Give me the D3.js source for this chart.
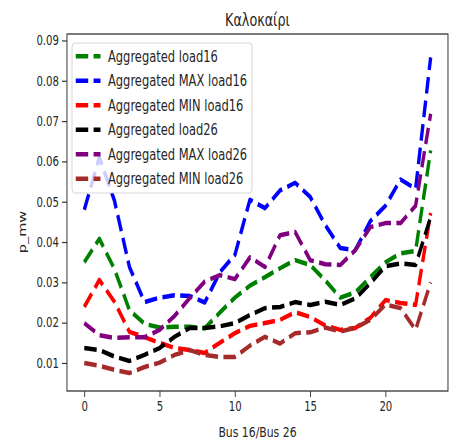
<!DOCTYPE html>
<html>
<head>
<meta charset="utf-8">
<script src="https://cdn.jsdelivr.net/npm/d3@7"></script>
<style>
  html, body { margin: 0; padding: 0; background: #fff; }
  svg { display: block; }
  text { font-family: "DejaVu Sans", sans-serif; fill: #262626; }
</style>
</head>
<body>
<script>
// Hours 0..23 on the x axis
const hours = d3.range(24);

const load16 = [0.035, 0.0408, 0.0333, 0.0231, 0.0197, 0.0188, 0.019, 0.019, 0.0186, 0.0225, 0.0262, 0.0292,
  0.0313, 0.0335, 0.0355, 0.0343, 0.0305, 0.0262, 0.0275, 0.0313, 0.035, 0.0372, 0.0378, 0.0627];
const maxLoad16 = [0.048, 0.061, 0.0503, 0.0338, 0.0251, 0.0262, 0.0268, 0.0266, 0.025, 0.0325, 0.0368, 0.0505,
  0.0484, 0.0528, 0.0547, 0.0512, 0.0442, 0.0385, 0.038, 0.0452, 0.049, 0.0555, 0.0532, 0.0858];
const minLoad16 = [0.0239, 0.0306, 0.0252, 0.0177, 0.0164, 0.015, 0.0137, 0.0132, 0.0125, 0.015, 0.0174, 0.0192,
  0.0199, 0.0207, 0.0226, 0.0214, 0.0193, 0.0182, 0.0187, 0.0212, 0.0256, 0.0249, 0.0244, 0.0472];
const load26 = [0.0137, 0.0132, 0.0116, 0.0105, 0.012, 0.0137, 0.0165, 0.0187, 0.0187, 0.0191, 0.0199, 0.0219,
  0.0236, 0.0239, 0.0251, 0.0244, 0.0252, 0.0244, 0.026, 0.0298, 0.034, 0.0347, 0.0343, 0.0462];
const maxLoad26 = [0.0199, 0.0169, 0.0162, 0.0164, 0.0164, 0.0182, 0.0217, 0.0261, 0.0302, 0.0318, 0.0308, 0.0362,
  0.0338, 0.0417, 0.0425, 0.0355, 0.0345, 0.0343, 0.038, 0.0437, 0.0447, 0.0447, 0.049, 0.0718];
const minLoad26 = [0.01, 0.0093, 0.0083, 0.0075, 0.009, 0.0101, 0.012, 0.0132, 0.012, 0.0115, 0.0115, 0.0143,
  0.0165, 0.0148, 0.0174, 0.0176, 0.0188, 0.0178, 0.0187, 0.0207, 0.0245, 0.0236, 0.0182, 0.030];

const seriesNames = ["Aggregated load16", "Aggregated MAX load16", "Aggregated MIN load16",
  "Aggregated load26", "Aggregated MAX load26", "Aggregated MIN load26"];
const seriesValues = [load16, maxLoad16, minLoad16, load26, maxLoad26, minLoad26];
const seriesColors = ["#008000", "#0000ff", "#ff0000", "#000000", "#800080", "#a52a2a"];

const xTicks = [0, 5, 10, 15, 20];
const yTicks = [0.01, 0.02, 0.03, 0.04, 0.05, 0.06, 0.07, 0.08, 0.09];

const titleText = "Καλοκαίρι";
const xLabel = "Bus 16/Bus 26";
const yLabel = "p_mw";

// The whole figure is drawn in a wider frame and squeezed horizontally.
const W = 454, H = 445, SX = 0.75;
const plot = { left: 89.3, right: 597.3, top: 34, bottom: 391 };
const dash = "16.6,7.2";
const lw = 4.5;

const svg = d3.select("body").append("svg")
  .attr("width", W).attr("height", H);
svg.append("rect").attr("width", W).attr("height", H).attr("fill", "#fff");

const root = svg.append("g").attr("transform", `scale(${SX},1)`);

const x = d3.scaleLinear().domain([-1.15, 24.15]).range([plot.left, plot.right]);
const y = d3.scaleLinear().domain([0.00305, 0.0916]).range([plot.bottom, plot.top]);

// Axes
const xAxis = d3.axisBottom(x).tickValues(xTicks).tickFormat(d3.format("d")).tickSize(6).tickPadding(4);
const yAxis = d3.axisLeft(y).tickValues(yTicks).tickFormat(d3.format(".2f")).tickSize(6.7).tickPadding(4);

const gx = root.append("g").attr("transform", `translate(0,${plot.bottom})`).call(xAxis);
const gy = root.append("g").attr("transform", `translate(${plot.left},0)`).call(yAxis);
[gx, gy].forEach(g => {
  g.select(".domain").remove();
  g.selectAll(".tick line").attr("stroke", "#333").attr("stroke-width", 1.2);
  g.selectAll(".tick text").attr("font-size", 13.5).attr("fill", "#262626")
    .style("font-family", "DejaVu Sans, sans-serif");
});

// Series lines
const line = d3.line().x((d, i) => x(hours[i])).y(d => y(d));
const clip = root.append("clipPath").attr("id", "plotclip").append("rect")
  .attr("x", plot.left).attr("y", plot.top)
  .attr("width", plot.right - plot.left).attr("height", plot.bottom - plot.top);
const linesG = root.append("g").attr("clip-path", "url(#plotclip)");
seriesValues.forEach((vals, k) => {
  linesG.append("path")
    .datum(vals)
    .attr("d", line)
    .attr("fill", "none")
    .attr("stroke", seriesColors[k])
    .attr("stroke-width", lw)
    .attr("stroke-dasharray", dash)
    .attr("stroke-linejoin", "round")
    .attr("stroke-linecap", "butt");
});

// Frame
root.append("rect")
  .attr("x", plot.left).attr("y", plot.top)
  .attr("width", plot.right - plot.left).attr("height", plot.bottom - plot.top)
  .attr("fill", "none").attr("stroke", "#333").attr("stroke-width", 1.3);

// Legend
const legend = root.append("g");
legend.append("rect")
  .attr("x", 96).attr("y", 43).attr("width", 240).attr("height", 150)
  .attr("rx", 4).attr("ry", 4)
  .attr("fill", "#fff").attr("fill-opacity", 0.8)
  .attr("stroke", "#d0d0d0").attr("stroke-width", 1);
seriesNames.forEach((name, k) => {
  const cy = 56.3 + k * 24.5;
  legend.append("line")
    .attr("x1", 101).attr("x2", 134).attr("y1", cy).attr("y2", cy)
    .attr("stroke", seriesColors[k]).attr("stroke-width", lw)
    .attr("stroke-dasharray", dash);
  legend.append("text")
    .attr("x", 144).attr("y", cy).attr("dy", "0.36em")
    .attr("font-size", 15.3)
    .text(name);
});

// Title and axis labels
root.append("text")
  .attr("x", (plot.left + plot.right) / 2).attr("y", 26)
  .attr("text-anchor", "middle").attr("font-size", 17)
  .text(titleText);
root.append("text")
  .attr("x", (plot.left + plot.right) / 2).attr("y", 437)
  .attr("text-anchor", "middle").attr("font-size", 14.5)
  .text(xLabel);
root.append("text")
  .attr("transform", `translate(34,232) rotate(-90)`)
  .attr("text-anchor", "middle").attr("font-size", 14.5)
  .text(yLabel);
</script>
</body>
</html>
